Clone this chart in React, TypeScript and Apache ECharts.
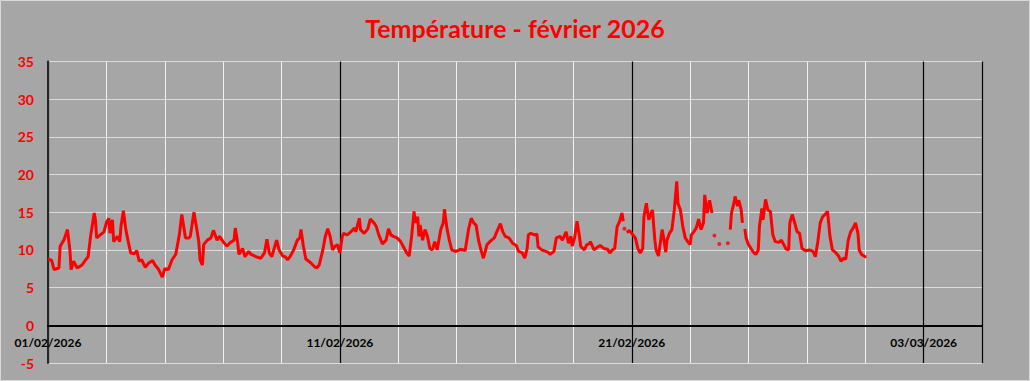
import React, { useEffect, useRef } from "react";
import * as echarts from "echarts";

const TITLE = "Température - février 2026";
const TICK_LABELS = ["01/02/2026", "11/02/2026", "21/02/2026", "03/03/2026"];
const X_MAX_HOURS = 768; // 32 days shown
const Y_MIN = -5;
const Y_MAX = 35;

// hours since 01/02/2026 00:00 and temperature (°C); null = missing data
const hours = [
  0, 3, 5, 9, 10, 13, 16, 18, 19, 21, 24, 28, 31, 33, 35, 38, 39, 40, 43, 46, 48, 50, 51, 53, 54, 57, 59, 60, 62, 64, 66, 68, 71, 73, 75, 77, 80, 83, 86, 88, 91, 94, 96, 99,
  102, 105, 108, 110, 112, 113, 116, 117, 120, 122, 124, 125, 127, 128, 131, 134, 136, 139, 141, 144, 147, 150, 153, 154, 156, 157, 160, 162, 165, 167, 171, 175, 178,
  180, 182, 184, 188, 190, 193, 195, 197, 199, 202, 205, 207, 208, 210, 212, 216, 219, 221, 223, 226, 228, 230, 232, 234, 236, 238, 240, 242, 243, 246, 249, 252, 253,
  256, 257, 260, 263, 265, 268, 270, 272, 275, 278, 280, 282, 284, 287, 290, 293, 295, 297, 299, 301, 302, 304, 305, 306, 308, 310, 312, 314, 316, 318, 320, 323, 325,
  326, 328, 330, 332, 335, 337, 339, 342, 343, 346, 348, 350, 352, 354, 356, 358, 361, 364, 367, 369, 372, 374, 376, 379, 382, 385, 387, 390, 392, 394, 395, 397, 400,
  402, 403, 406, 411, 413, 416, 418, 421, 423, 426, 428, 430, 431, 433, 435, 437, 438, 441, 443, 445, 446, 449, 452, 454, 457, 460, 462, 464, 466, 468, 470, 472, 473,
  474, 476, 478, 480, 483, 485, 487, 489, 490, 492, 494, 496, 497, 499, 500, 502, 505, 506, 508, 509, 511, 513, 515, 517, 518, 520, 522, 524, 526, 528, 529, 531, 533,
  535, 537, 539, 540, 542, 544, 546, 547, 561, 562, 564, 565, 567, 568, 570, 571, 572, 573, 574, 576, 578, 580, 582, 584, 585, 587, 588, 590, 592, 594, 596, 598, 601,
  603, 605, 607, 609, 610, 612, 614, 616, 618, 620, 623, 626, 629, 631, 633, 635, 637, 640, 641, 643, 645, 648, 650, 652, 654, 656, 658, 660, 662, 664, 666, 667, 669,
  672, 673,
];
const temps = [
  8.8, 8.6, 7.4, 7.6, 10.5, 11.3, 12.7, 10.0, 7.4, 8.5, 7.6, 8.0, 8.7, 9.1, 11.8, 14.9, 14.0, 11.6, 12.0, 12.4, 13.6, 14.2, 12.2, 14.0, 11.1, 11.8, 11.1, 13.1, 15.2, 12.7, 11.1, 9.6, 9.5, 9.9, 8.5, 8.7, 7.7, 8.3, 8.6, 8.0, 7.4, 6.4, 7.5, 7.4,
  8.7, 9.4, 12.0, 14.7, 12.7, 11.6, 11.6, 11.8, 15.0, 13.1, 11.1, 8.7, 8.0, 10.7, 11.3, 11.6, 12.6, 11.3, 11.8, 11.1, 10.5, 11.0, 11.3, 12.9, 10.9, 9.4, 10.2, 9.1, 9.8, 9.4, 9.1, 8.9, 9.6,
  11.4, 9.6, 9.1, 11.3, 10.0, 9.2, 9.1, 8.7, 9.1, 10.0, 11.3, 11.6, 12.7, 10.5, 8.8, 8.3, 7.8, 7.6, 8.0, 10.0, 11.8, 12.8, 11.8, 10.0, 10.5, 10.7, 9.6, 11.8, 12.2, 12.0, 12.4, 12.9, 12.4,
  14.2, 12.7, 12.2, 12.8, 14.1, 13.6, 13.1, 12.0, 10.8, 11.3, 12.8, 12.0, 11.8, 11.6, 11.1, 10.2, 9.6, 9.2, 11.8, 15.1, 13.6, 14.4, 11.8, 13.3, 11.3, 12.7, 11.8, 10.2, 10.0, 11.1, 10.0, 12.7, 13.6,
  15.4, 12.9, 11.3, 10.0, 9.8, 9.9, 10.1, 10.0, 9.9, 12.9, 14.2, 13.6, 13.3, 11.3, 10.0, 8.9, 10.7, 11.2, 11.6, 12.4, 13.5, 12.4, 11.8, 11.6, 10.9, 10.6, 9.8, 9.6, 8.9, 10.2, 12.0, 12.2, 12.0,
  12.1, 10.4, 10.0, 9.7, 9.4, 9.8, 11.6, 11.8, 11.3, 12.4, 10.9, 11.8, 10.5, 11.6, 13.8, 11.8, 10.5, 10.0, 10.7, 10.8, 11.1, 10.0, 10.4, 10.6, 10.2, 10.1, 9.6, 10.0, 10.2, 13.1, 13.8, 14.9, 13.8,
  null, 12.3, 12.6, 12.2, 11.6, 10.2, 9.6, 10.2, 14.4, 16.2, 14.0, 14.9, 15.3, 11.3, 10.0, 9.2, 12.7, 11.8, 9.7, 11.3, 12.2, 12.7, 15.3, 19.1, 16.2, 15.3, 13.1, 11.6, 11.1, 10.7, 12.0, 12.4, 12.9,
  14.1, 12.7, 13.6, 17.3, 14.9, 16.6, 14.9, null, 12.7, 14.9, 16.2, 17.1, 15.8, 16.6, 15.3, 13.6, null, 12.8, 11.6, 10.7, 10.2, 9.7, 9.4, 10.0, 13.1, 15.5, 14.0, 16.7, 15.3, 15.1, 12.0, 11.1, 11.0,
  11.3, 10.7, 10.1, 10.0, 13.6, 14.7, 13.6, 12.4, 12.2, 10.2, 9.9, 10.0, 9.8, 9.1, 11.1, 13.6, 14.4, 14.9, 15.1, 11.8, 10.0, 9.6, 9.2, 8.5, 8.9, 8.8, 11.3, 12.4, 12.9, 13.6, 12.2, 10.0, 9.4,
  9.1, 9.1,
];
// isolated readings between gaps
const dotHours = [474, 548, 552, 559];
const dotTemps = [12.8, 11.9, 10.8, 10.9];

const GRID_TOP = 61.5;
const GRID_BOTTOM = 18;
const CHART_H = 381;

export default function App() {
  const ref = useRef<HTMLDivElement>(null);
  useEffect(() => {
    if (!ref.current) return;
    const chart = echarts.init(ref.current, null, { renderer: "svg" });
    const lineData = hours.map((h, i) => [h, temps[i] === null ? "-" : temps[i]]);
    const dotData = dotHours.map((h, i) => [h, dotTemps[i]]);
    const font = "Lato, 'Open Sans', sans-serif";
    // distance from grid bottom up to the zero line
    const plotH = CHART_H - GRID_TOP - GRID_BOTTOM;
    const zeroOffset = (plotH * (0 - Y_MIN)) / (Y_MAX - Y_MIN);
    chart.setOption({
      animation: false,
      backgroundColor: "#a6a6a6",
      title: {
        text: TITLE,
        left: "center",
        top: 10,
        textStyle: { color: "#ff0000", fontSize: 25, fontWeight: "bold", fontFamily: font },
      },
      graphic: [
        {
          type: "rect",
          shape: { x: 0.5, y: 0.5, width: 1029, height: 380 },
          style: { fill: "none", stroke: "#d9d9d9", lineWidth: 1 },
          silent: true,
        },
      ],
      grid: { left: 48, right: 48, top: GRID_TOP, bottom: GRID_BOTTOM, containLabel: false, outerBoundsMode: "none" },
      xAxis: [
        {
          type: "value",
          position: "top",
          min: 0,
          max: X_MAX_HOURS,
          interval: 48,
          axisLine: { show: false, onZero: false },
          axisTick: { show: false },
          axisLabel: { show: false },
          splitLine: { show: true, lineStyle: { color: "#f2f2f2", width: 1 } },
        },
        {
          type: "value",
          position: "bottom",
          offset: -zeroOffset,
          min: 0,
          max: X_MAX_HOURS,
          interval: 240,
          axisLine: { show: true, onZero: false, lineStyle: { color: "#000000", width: 2 } },
          axisTick: { show: false },
          axisLabel: {
            show: true,
            margin: 11,
            color: "#000000",
            fontWeight: "bold",
            fontSize: 12,
            fontFamily: font,
            showMaxLabel: false,
            formatter: (v: number) => TICK_LABELS[Math.round(v / 240)] ?? "",
          },
          splitLine: { show: true, lineStyle: { color: "#000000", width: 1.2 } },
        },
      ],
      yAxis: {
        type: "value",
        min: Y_MIN,
        max: Y_MAX,
        interval: 5,
        axisLine: { show: true, onZero: false, lineStyle: { color: "#262626", width: 2 } },
        axisTick: { show: false },
        axisLabel: { color: "#ff0000", fontWeight: "bold", fontSize: 14, fontFamily: font, margin: 14 },
        splitLine: { show: true, lineStyle: { color: "#dcdcdc", width: 1 } },
      },
      series: [
        {
          type: "line",
          xAxisIndex: 1,
          data: lineData,
          showSymbol: false,
          symbol: "none",
          connectNulls: false,
          lineStyle: { color: "#ff0000", width: 3 },
          z: 5,
        },
        {
          type: "scatter",
          xAxisIndex: 1,
          data: dotData,
          symbolSize: 4,
          itemStyle: { color: "#ff0000" },
          z: 5,
        },
      ],
    });
    return () => chart.dispose();
  }, []);
  return (
    <div
      ref={ref}
      style={{ position: "absolute", left: 0, top: 0, width: 1030, height: 381 }}
    />
  );
}
